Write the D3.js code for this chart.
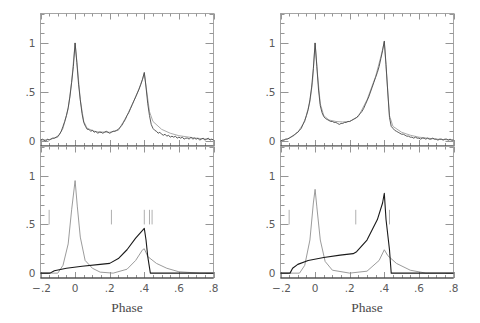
<!DOCTYPE html>
<meta charset="utf-8">
<style>
  body { margin: 0; background: #fff; }
  .frame { fill: none; stroke: #a5a5a5; stroke-width: 1px; }
  .tick { stroke: #959595; stroke-width: 1px; }
  .lbl { font-family: "DejaVu Sans", sans-serif; font-size: 10.5px; fill: #5a5a5a; }
  .xtitle { font-family: "Liberation Serif", serif; font-size: 13.5px; fill: #4a4a4a; }
</style>
<body>
<svg width="480" height="323"></svg>
<script src="https://d3js.org/d3.v7.min.js"></script>
<script>

// phase grid of the observed curves
var phases = d3.range(-20, 81).map(i => i / 100);

// observed light curves (upper panels), one value per 0.01 in phase
var obsLeft = [0.01,0.02,0.01,0.00,0.02,0.01,0.02,0.03,0.03,0.04,
  0.05,0.07,0.10,0.15,0.20,0.26,0.34,0.45,0.60,0.76,
  1.00,0.80,0.58,0.42,0.28,0.19,0.15,0.12,0.12,0.10,
  0.11,0.09,0.10,0.08,0.09,0.09,0.08,0.09,0.10,0.09,
  0.08,0.09,0.10,0.10,0.11,0.12,0.14,0.16,0.19,0.22,
  0.26,0.29,0.33,0.37,0.41,0.45,0.49,0.53,0.58,0.63,
  0.70,0.55,0.38,0.26,0.17,0.13,0.11,0.10,0.08,0.09,
  0.07,0.06,0.07,0.05,0.06,0.04,0.05,0.04,0.05,0.03,
  0.04,0.03,0.04,0.02,0.03,0.03,0.02,0.04,0.02,0.03,
  0.02,0.03,0.01,0.02,0.03,0.01,0.02,0.03,0.01,0.02,0.01];

var obsRight = [0.00,0.01,0.01,0.02,0.02,0.03,0.04,0.05,0.06,0.08,
  0.09,0.11,0.13,0.17,0.21,0.26,0.32,0.42,0.55,0.74,
  1.00,0.76,0.52,0.36,0.29,0.25,0.23,0.22,0.21,0.20,
  0.20,0.19,0.19,0.18,0.17,0.18,0.18,0.19,0.19,0.20,
  0.20,0.21,0.22,0.23,0.24,0.26,0.28,0.30,0.33,0.37,
  0.41,0.45,0.50,0.55,0.60,0.65,0.70,0.76,0.84,0.92,
  1.02,0.78,0.50,0.24,0.15,0.13,0.11,0.10,0.09,0.08,
  0.07,0.07,0.06,0.05,0.05,0.04,0.04,0.03,0.04,0.03,
  0.03,0.02,0.03,0.03,0.02,0.03,0.02,0.02,0.03,0.02,
  0.02,0.01,0.02,0.02,0.01,0.02,0.02,0.01,0.02,0.01,0.01];

// model fits [phase, flux]
var modelLeft = [[-0.2,0.01],[-0.15,0.015],[-0.1,0.04],[-0.07,0.13],[-0.04,0.33],[-0.02,0.6],
  [0,1.0],[0.015,0.72],[0.03,0.42],[0.05,0.2],[0.07,0.13],[0.12,0.095],[0.2,0.09],[0.25,0.11],
  [0.3,0.26],[0.35,0.45],[0.38,0.58],[0.4,0.69],[0.41,0.56],[0.43,0.3],[0.45,0.2],[0.5,0.12],
  [0.55,0.08],[0.6,0.055],[0.7,0.03],[0.8,0.015]];

var modelRight = [[-0.2,0.0],[-0.15,0.03],[-0.1,0.09],[-0.06,0.2],[-0.03,0.4],[-0.015,0.6],
  [0,1.0],[0.015,0.66],[0.03,0.38],[0.05,0.26],[0.08,0.215],[0.12,0.2],[0.16,0.195],[0.2,0.2],
  [0.25,0.25],[0.3,0.42],[0.35,0.66],[0.38,0.86],[0.4,1.01],[0.41,0.76],[0.43,0.26],[0.45,0.15],
  [0.5,0.09],[0.55,0.06],[0.6,0.04],[0.7,0.02],[0.8,0.01]];

// components (lower panels)
var compAleft = [[-0.2,0],[-0.145,0],[-0.1,0.0],[-0.07,0.08],[-0.04,0.3],[-0.02,0.65],[0,0.95],
  [0.013,0.68],[0.03,0.37],[0.058,0.13],[0.1,0.05],[0.145,0.01],[0.22,0.0],[0.3,0.04],
  [0.35,0.13],[0.39,0.24],[0.4,0.25],[0.42,0.17],[0.47,0.1],[0.53,0.05],[0.6,0.014],[0.72,0],[0.8,0]];
var compBleft = [[-0.2,0],[-0.145,0],[-0.12,0.025],[-0.05,0.05],[0.04,0.07],[0.145,0.09],[0.2,0.1],
  [0.25,0.15],[0.3,0.24],[0.35,0.36],[0.4,0.46],[0.41,0.34],[0.42,0.17],[0.435,0],[0.8,0]];

var compAright = [[-0.2,0],[-0.145,0],[-0.09,0.0],[-0.06,0.08],[-0.03,0.34],[-0.01,0.72],[0,0.86],
  [0.01,0.68],[0.03,0.34],[0.058,0.12],[0.1,0.03],[0.2,0],[0.3,0.02],[0.37,0.13],[0.4,0.24],
  [0.42,0.18],[0.47,0.1],[0.55,0.03],[0.64,0],[0.8,0]];
var compBright = [[-0.2,0],[-0.145,0],[-0.13,0.05],[-0.1,0.09],[-0.04,0.13],[0.05,0.16],[0.145,0.185],
  [0.22,0.2],[0.24,0.22],[0.3,0.34],[0.36,0.55],[0.39,0.72],[0.4,0.82],[0.41,0.55],[0.43,0.24],
  [0.44,0],[0.8,0]];

// phase markers in the lower panels
var marksLeft = [-0.15, 0.21, 0.40, 0.43, 0.445];
var marksRight = [-0.15, 0.235, 0.43];

var xTickVals = [-0.2, 0, 0.2, 0.4, 0.6, 0.8];
var xTickText = ["\u2212.2", "0", ".2", ".4", ".6", ".8"];
var yTickVals = [0, 0.5, 1];
var yTickText = ["0", ".5", "1"];

const svg = d3.select('svg');

function panel(x0, x1, y0, y1, isTop) {
  const x = d3.scaleLinear().domain([-0.2, 0.8]).range([x0, x1]);
  const y = d3.scaleLinear().domain([-0.05, 1.3]).range([y1, y0]);
  const g = svg.append('g');

  g.append('rect').attr('class', 'frame')
    .attr('x', x0).attr('y', y0).attr('width', x1 - x0).attr('height', y1 - y0);

  // x ticks, top and bottom
  d3.range(-4, 17).map(i => i * 0.05).forEach(v => {
    const major = Math.abs(Math.round(v * 100) % 20) === 0;
    const L = major ? 6 : 3;
    const px = Math.round(x(v)) + 0.5;
    g.append('line').attr('class', 'tick').attr('x1', px).attr('x2', px).attr('y1', y0).attr('y2', y0 + L);
    g.append('line').attr('class', 'tick').attr('x1', px).attr('x2', px).attr('y1', y1).attr('y2', y1 - L);
  });
  // y ticks, left and right
  d3.range(0, 14).map(i => i * 0.1).forEach(v => {
    const major = Math.abs(Math.round(v * 10) % 5) === 0;
    const L = major ? 8 : 4;
    const py = Math.round(y(v)) + 0.5;
    g.append('line').attr('class', 'tick').attr('x1', x0).attr('x2', x0 + L).attr('y1', py).attr('y2', py);
    g.append('line').attr('class', 'tick').attr('x1', x1).attr('x2', x1 - L).attr('y1', py).attr('y2', py);
  });

  // dark baseline
  g.append('line').attr('x1', x0).attr('x2', x1).attr('y1', y1).attr('y2', y1)
    .attr('stroke', '#2a2a2a').attr('stroke-width', 1.2);

  yTickVals.forEach((v, i) => {
    g.append('text').attr('class', 'lbl').attr('x', x0 - 5).attr('y', y(v) + 4)
      .attr('text-anchor', 'end').text(yTickText[i]);
  });

  if (!isTop) {
    xTickVals.forEach((v, i) => {
      g.append('text').attr('class', 'lbl').attr('x', x(v) + (v < 0 ? 1 : 0)).attr('y', y1 + 14)
        .attr('text-anchor', 'middle').text(xTickText[i]);
    });
    g.append('text').attr('class', 'xtitle').attr('x', (x0 + x1) / 2).attr('y', y1 + 34)
      .attr('text-anchor', 'middle').text('Phase');
  }
  return { g: g, x: x, y: y };
}

function drawCurve(p, pts, color, width) {
  const line = d3.line().x(d => p.x(d[0])).y(d => p.y(d[1]));
  p.g.append('path').attr('d', line(pts)).attr('fill', 'none')
    .attr('stroke', color).attr('stroke-width', width).attr('stroke-linejoin', 'round');
}

function drawMarks(p, marks) {
  marks.forEach(m => {
    p.g.append('line').attr('x1', p.x(m)).attr('x2', p.x(m))
      .attr('y1', p.y(0.5)).attr('y2', p.y(0.65))
      .attr('stroke', '#b0b0b0').attr('stroke-width', 1);
  });
}

const L = [40.5, 213.5], R = [280.5, 453.5];
const topY = [13.5, 146], botY = [146.5, 278];

const pTL = panel(L[0], L[1], topY[0], topY[1], true);
const pBL = panel(L[0], L[1], botY[0], botY[1], false);
const pTR = panel(R[0], R[1], topY[0], topY[1], true);
const pBR = panel(R[0], R[1], botY[0], botY[1], false);

drawCurve(pTL, modelLeft, '#a0a0a0', 0.9);
drawCurve(pTL, phases.map((p, i) => [p, obsLeft[i]]), '#4a4a4a', 0.9);
drawCurve(pTR, modelRight, '#a0a0a0', 0.9);
drawCurve(pTR, phases.map((p, i) => [p, obsRight[i]]), '#4a4a4a', 0.9);

drawMarks(pBL, marksLeft);
drawMarks(pBR, marksRight);
drawCurve(pBL, compAleft, '#909090', 0.9);
drawCurve(pBL, compBleft, '#1a1a1a', 1.1);
drawCurve(pBR, compAright, '#909090', 0.9);
drawCurve(pBR, compBright, '#1a1a1a', 1.1);

</script>
</body>
